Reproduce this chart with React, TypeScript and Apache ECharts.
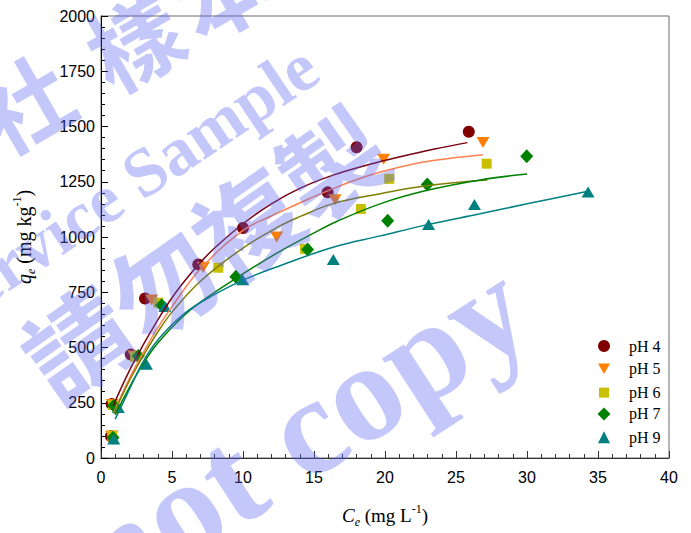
import React, { useEffect, useRef } from "react";
import * as echarts from "echarts";

// Observed data (Ce, qe)
const ph4Points = [[0.7, 98], [0.75, 244], [2.1, 468], [3.1, 722], [6.85, 876], [10.0, 1041], [15.96, 1202], [18.0, 1406], [25.9, 1476]];
const ph5Points = [[0.75, 100], [0.8, 242], [2.3, 462], [3.57, 715], [7.2, 862], [12.37, 1000], [16.48, 1169], [19.9, 1352], [26.9, 1428]];
const ph6Points = [[0.8, 100], [0.85, 240], [2.4, 458], [4.04, 703], [8.26, 861], [14.37, 946], [18.3, 1127], [20.3, 1263], [27.16, 1332]];
const ph7Points = [[0.85, 92], [0.9, 236], [2.63, 462], [4.27, 691], [9.5, 820], [14.55, 944], [20.19, 1074], [22.98, 1238], [29.98, 1365]];
const ph9Points = [[0.9, 86], [1.22, 229], [3.2, 424], [4.5, 685], [9.98, 806], [16.36, 898], [23.07, 1056], [26.3, 1147], [34.3, 1204]];

// Fitted curves
const fit4 = [[0.85, 235], [2, 395], [3, 515], [4, 625], [5, 725], [6, 810], [7, 885], [8, 950], [10, 1060], [12, 1150], [14, 1220], [16.35, 1280], [19, 1330], [21, 1362], [23.5, 1398], [25.8, 1427]];
const fit5 = [[0.9, 205], [2, 360], [3, 480], [4, 590], [5, 685], [7, 855], [10, 1030], [12, 1095], [14, 1154], [16, 1210], [18.7, 1275], [22, 1330], [24.5, 1355], [26.9, 1372]];
const fit6 = [[0.9, 200], [2, 350], [3, 465], [4, 570], [5, 660], [7, 800], [10, 950], [12.6, 1050], [14, 1092], [16.3, 1150], [19.6, 1195], [22.9, 1232], [27.2, 1258]];
const fit7 = [[1.0, 195], [2, 320], [3, 430], [4, 520], [5.6, 630], [7, 705], [9.8, 825], [12.6, 935], [14.9, 1015], [16.6, 1070], [19.65, 1150], [22.9, 1210], [26.7, 1258], [30, 1285]];
const fit9 = [[1.0, 176], [2, 310], [3, 440], [4.15, 545], [6, 660], [8, 740], [10, 805], [12.6, 870], [16.4, 955], [19.65, 1005], [23, 1056], [26.7, 1105], [30, 1150], [34.3, 1207]];

const seriesNames = ["pH 4", "pH 5", "pH 6", "pH 7", "pH 9"];
const markerColors = ["#800000", "#FF8000", "#C8C000", "#008000", "#008080"];
const lineColors = ["#7A0010", "#FF8050", "#808000", "#008000", "#008080"];
const triDown = "path://M0,0L20,0L10,17.3Z";
const symbols = ["circle", triDown, "rect", "diamond", "triangle"];
const symbolSizes: any[] = [12, [13, 11], 10, [13, 14], [13, 11]];
const legendSizes = [12, 12, 10, 13, 12];

const xTicks = { min: 0, max: 40, interval: 5 };
const yTicks = { min: 0, max: 2000, interval: 250 };

const serif = "'Liberation Serif', 'Times New Roman', serif";
const sans = "'Liberation Sans', Arial, sans-serif";
const wmFill = "rgba(90,100,240,0.36)";

const makeRich = (size: number) => ({
  n: { fontFamily: serif, fontSize: size, color: "#000", lineHeight: size + 6 },
  i: { fontFamily: serif, fontSize: size, fontStyle: "italic", color: "#000", lineHeight: size + 6 },
  s: { fontFamily: serif, fontSize: Math.round(size * 0.62), fontStyle: "italic", color: "#000", lineHeight: 12, verticalAlign: "bottom" },
  p: { fontFamily: serif, fontSize: Math.round(size * 0.62), color: "#000", lineHeight: 12, verticalAlign: "top" },
});

export default function App() {
  const ref = useRef<HTMLDivElement>(null);
  useEffect(() => {
    document.body.style.margin = "0";
    const chart = echarts.init(ref.current!, undefined, { renderer: "svg" });
    const points = [ph4Points, ph5Points, ph6Points, ph7Points, ph9Points];
    const fits = [fit4, fit5, fit6, fit7, fit9];
    const scatter = points.map((d, i) => ({
      name: seriesNames[i],
      type: "scatter",
      data: d,
      symbol: symbols[i],
      symbolSize: symbolSizes[i],
      itemStyle: { color: markerColors[i], opacity: 1 },
      z: 2,
    }));
    const lines = fits.map((d, i) => ({
      name: "fit " + seriesNames[i],
      type: "line",
      data: d,
      smooth: 0.4,
      showSymbol: false,
      symbol: "none",
      lineStyle: { color: lineColors[i], width: 1.5 },
      z: 3,
    }));
    const rot = (deg: number) => (deg * Math.PI) / 180;
    const wmText = (text: string, x: number, y: number, size: number, deg: number, family: string) => ({
      type: "text",
      x,
      y,
      rotation: rot(deg),
      z: 100,
      silent: true,
      style: {
        text,
        fill: wmFill,
        fontSize: size,
        fontWeight: "bold",
        fontFamily: family,
        align: "center",
        verticalAlign: "middle",
        textAlign: "center",
        textVerticalAlign: "middle",
      },
    });
    const cjk = "'Noto Sans CJK TC', 'Noto Sans CJK SC', sans-serif";
    const legends = seriesNames.map((nm, i) => ({
      orient: "vertical",
      left: 599 - legendSizes[i] / 2,
      top: 339 + i * 22.8 - legendSizes[i] / 2,
      itemWidth: legendSizes[i],
      itemHeight: legendSizes[i],
      symbolKeepAspect: true,
      selectedMode: false,
      data: [nm],
      textStyle: {
        fontFamily: serif,
        fontSize: 16,
        color: "#000",
        padding: [0, 0, 0, 20 - legendSizes[i] / 2],
      },
    }));
    chart.setOption({
      animation: false,
      grid: { left: 101, right: 22, top: 16, bottom: 74, show: true, borderColor: "#6a6a6a", borderWidth: 1 },
      xAxis: {
        type: "value",
        ...xTicks,
        name: "{i|C}{s|e}{n| (mg L}{p|-1}{n|)}",
        nameLocation: "middle",
        nameGap: 45,
        nameTextStyle: { fontFamily: serif, fontSize: 19, rich: makeRich(19) },
        axisLine: { show: true, lineStyle: { color: "#333", width: 1 } },
        axisTick: { inside: true, length: 7, lineStyle: { color: "#333" } },
        minorTick: { show: true, splitNumber: 5, length: 4, lineStyle: { color: "#333" } },
        splitLine: { show: false },
        axisLabel: { fontFamily: sans, fontSize: 16, color: "#000", margin: 11, formatter: (v: number) => String(v) },
      },
      yAxis: {
        type: "value",
        ...yTicks,
        name: "{i|q}{s|e}{n| (mg kg}{p|-1}{n|)}",
        nameLocation: "middle",
        nameRotate: 90,
        nameGap: 64,
        nameTextStyle: { fontFamily: serif, fontSize: 20, rich: makeRich(20) },
        axisLine: { show: true, lineStyle: { color: "#000", width: 1 } },
        axisTick: { inside: true, length: 7, lineStyle: { color: "#000" } },
        minorTick: { show: true, splitNumber: 5, length: 4, lineStyle: { color: "#000" } },
        splitLine: { show: false },
        axisLabel: { fontFamily: sans, fontSize: 16, color: "#000", margin: 6, formatter: (v: number) => String(v) },
      },
      legend: legends,
      series: [...scatter, ...lines],
      graphic: {
        elements: [
          wmText("社", 22, 100, 92, 30, cjk),
          wmText("樣", 132, 38, 92, 30, cjk),
          wmText("本", 220, -12, 92, 30, cjk),
          wmText("Service Sample", 124, 186, 69, 34, serif),
          wmText("請勿複製", 202, 250, 104, 35, cjk),
          wmText("not copy", 300, 432, 140, 33, serif),
        ],
      },
    });
    return () => chart.dispose();
  }, []);
  return <div ref={ref} style={{ width: 691, height: 533 }} />;
}
